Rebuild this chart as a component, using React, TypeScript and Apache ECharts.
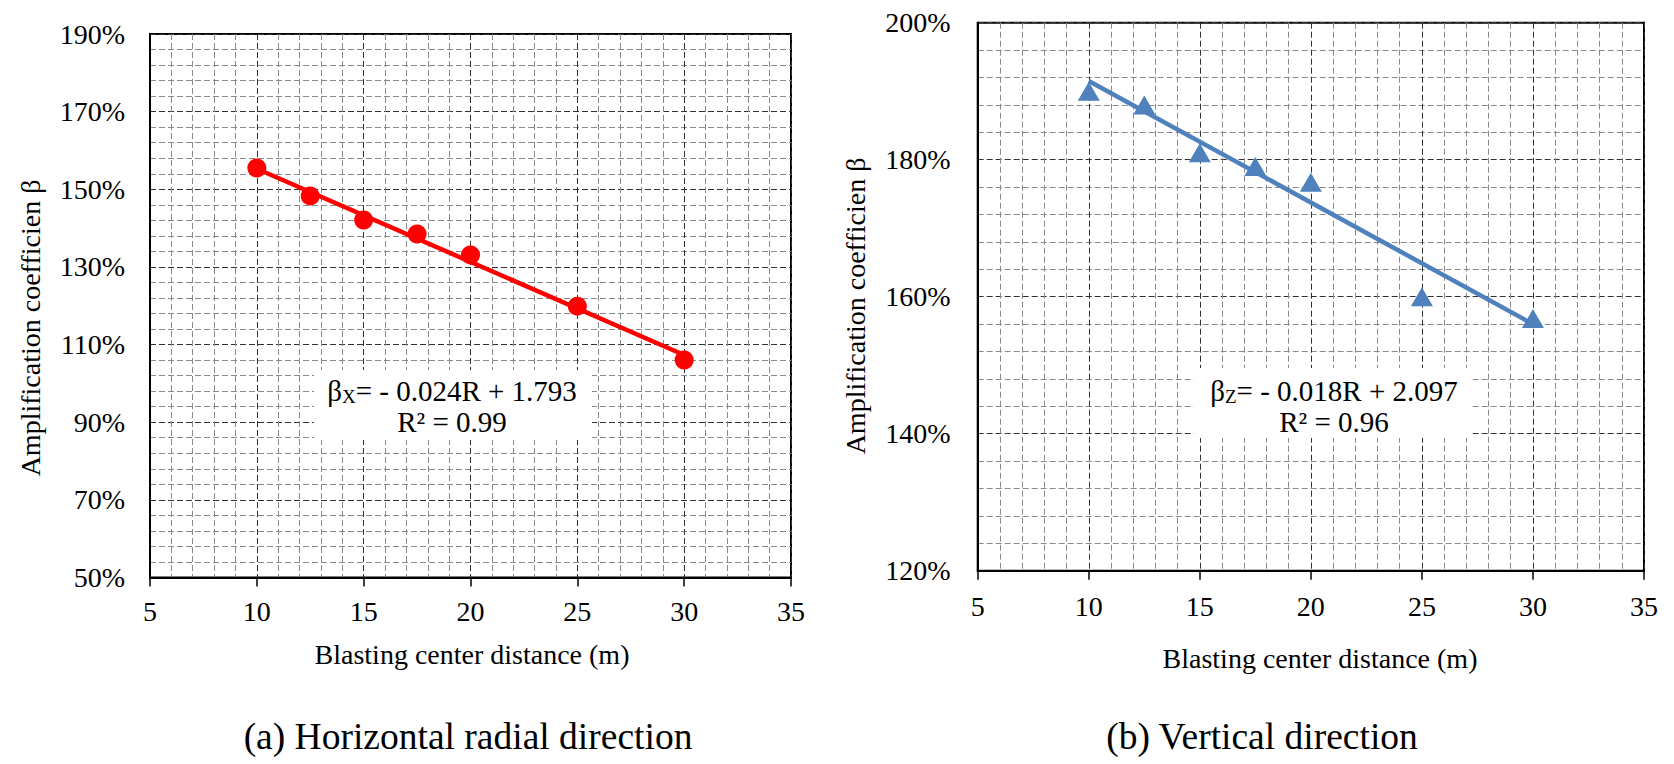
import React, { useEffect, useRef } from "react";
import * as echarts from "echarts";

// ---- data ----
const distanceA = [10, 12.5, 15, 17.5, 20, 25, 30];
const betaX = [155.5, 148.3, 142.1, 138.5, 133.1, 119.9, 106.0];
const distanceB = [10, 12.5, 15, 17.5, 20, 25, 30];
const betaZ = [190.0, 188.0, 181.0, 179.0, 176.7, 160.0, 156.8];
const trendDistance = [10, 30];
const trendX = [155.3, 107.3];
const trendZ = [191.5, 156.0];
const xRange = [5, 35];
const yRangeA = [50, 190];
const yRangeB = [120, 200];
const xTitle = "Blasting center distance (m)";
const yTitle = "Amplification coefficien β";
const captionA = "(a) Horizontal radial direction";
const captionB = "(b) Vertical direction";
const eqA = ["β", "X", "= - 0.024R + 1.793", "R² = 0.99"];
const eqB = ["β", "Z", "= - 0.018R + 2.097", "R² = 0.96"];

const FONT = "Liberation Serif";
const DASH = [6, 3];

function makeX(gridIndex: number, margin: number) {
  return {
    type: "value",
    gridIndex,
    min: xRange[0],
    max: xRange[1],
    interval: 5,
    axisLine: { show: true, onZero: false, lineStyle: { color: "#000", width: 2 } },
    axisTick: { show: true, inside: false, length: 9, lineStyle: { color: "#000", width: 1.5 } },
    minorTick: { show: false, splitNumber: 5 },
    axisLabel: { color: "#000", fontSize: 28, fontFamily: FONT, margin },
    splitLine: { show: true, lineStyle: { color: "#333", type: DASH, width: 1 } },
    minorSplitLine: { show: true, lineStyle: { color: "#8a8a8a", type: DASH, width: 1 } },
  };
}

function makeY(gridIndex: number, range: number[], margin: number) {
  return {
    type: "value",
    gridIndex,
    min: range[0],
    max: range[1],
    interval: 20,
    axisLine: { show: true, onZero: false, lineStyle: { color: "#000", width: 2 } },
    axisTick: { show: false },
    minorTick: { show: false, splitNumber: 5 },
    axisLabel: { color: "#000", fontSize: 28, fontFamily: FONT, margin, formatter: "{value}%" },
    splitLine: { show: true, lineStyle: { color: "#333", type: DASH, width: 1 } },
    minorSplitLine: { show: true, lineStyle: { color: "#8a8a8a", type: DASH, width: 1 } },
  };
}

function zip(xs: number[], ys: number[]) {
  return xs.map((x, i) => [x, ys[i]]);
}

function eqText(eq: string[]) {
  return `{g|${eq[0]}}{s|${eq[1]}}{n|${eq[2]}}\n{n|${eq[3]}}`;
}

const eqRich = {
  g: { fontSize: 29, fontFamily: FONT, lineHeight: 31, fill: "#000" },
  n: { fontSize: 29, fontFamily: FONT, lineHeight: 31, fill: "#000" },
  s: { fontSize: 19, fontFamily: FONT, lineHeight: 14, verticalAlign: "bottom", fill: "#000" },
};

function label(x: number, y: number, text: string, size: number, rotation = 0) {
  return {
    type: "text",
    x,
    y,
    rotation,
    z: 20,
    style: {
      text,
      fontSize: size,
      fontFamily: FONT,
      fill: "#000",
      align: "center",
      verticalAlign: "middle",
      textAlign: "center",
      textVerticalAlign: "middle",
    },
  };
}

function equation(x: number, y: number, eq: string[]) {
  return {
    type: "text",
    x,
    y,
    z: 11,
    style: {
      text: eqText(eq),
      rich: eqRich,
      fontSize: 29,
      fontFamily: FONT,
      fill: "#000",
      align: "center",
      verticalAlign: "middle",
      textAlign: "center",
      textVerticalAlign: "middle",
    },
  };
}

export default function App() {
  const ref = useRef<HTMLDivElement>(null);
  useEffect(() => {
    if (!ref.current) return;
    const chart = echarts.init(ref.current, undefined, { renderer: "svg" });
    chart.setOption({
      animation: false,
      backgroundColor: "#fff",
      textStyle: { fontFamily: FONT },
      grid: [
        { left: 150, top: 34, width: 641, height: 543.5, show: true, borderColor: "#000", borderWidth: 2, containLabel: false },
        { left: 977.7, top: 22.7, width: 666.3, height: 548, show: true, borderColor: "#000", borderWidth: 2, containLabel: false },
      ],
      xAxis: [makeX(0, 20), makeX(1, 22)],
      yAxis: [makeY(0, yRangeA, 25), makeY(1, yRangeB, 27)],
      series: [
        {
          type: "line",
          xAxisIndex: 0,
          yAxisIndex: 0,
          data: zip(trendDistance, trendX),
          symbol: "none",
          lineStyle: { color: "#FF0000", width: 4.5 },
          z: 3,
        },
        {
          type: "scatter",
          xAxisIndex: 0,
          yAxisIndex: 0,
          data: zip(distanceA, betaX),
          symbol: "circle",
          symbolSize: 19,
          itemStyle: { color: "#FF0000", opacity: 1 },
          z: 4,
        },
        {
          type: "line",
          xAxisIndex: 1,
          yAxisIndex: 1,
          data: zip(trendDistance, trendZ),
          symbol: "none",
          lineStyle: { color: "#4F81BD", width: 4.5 },
          z: 3,
        },
        {
          type: "scatter",
          xAxisIndex: 1,
          yAxisIndex: 1,
          data: zip(distanceB, betaZ),
          symbol: "triangle",
          symbolSize: [22, 19],
          itemStyle: { color: "#4F81BD", opacity: 1 },
          z: 4,
        },
      ],
      graphic: [
        { type: "rect", z: 10, shape: { x: 314, y: 370, width: 278, height: 70 }, style: { fill: "#fff" } },
        { type: "rect", z: 10, shape: { x: 1194, y: 368, width: 278, height: 70 }, style: { fill: "#fff" } },
        equation(452, 406, eqA),
        equation(1334, 406, eqB),
        label(472, 654, xTitle, 28),
        label(1320, 658, xTitle, 28),
        label(30, 328, yTitle, 28, Math.PI / 2),
        label(855, 306, yTitle, 28, Math.PI / 2),
        label(468, 736, captionA, 37.5),
        label(1262, 736, captionB, 37.5),
      ],
    });
    return () => chart.dispose();
  }, []);
  return (
    <div
      ref={ref}
      style={{ position: "absolute", left: 0, top: 0, width: 1674, height: 764, background: "#fff" }}
    />
  );
}
